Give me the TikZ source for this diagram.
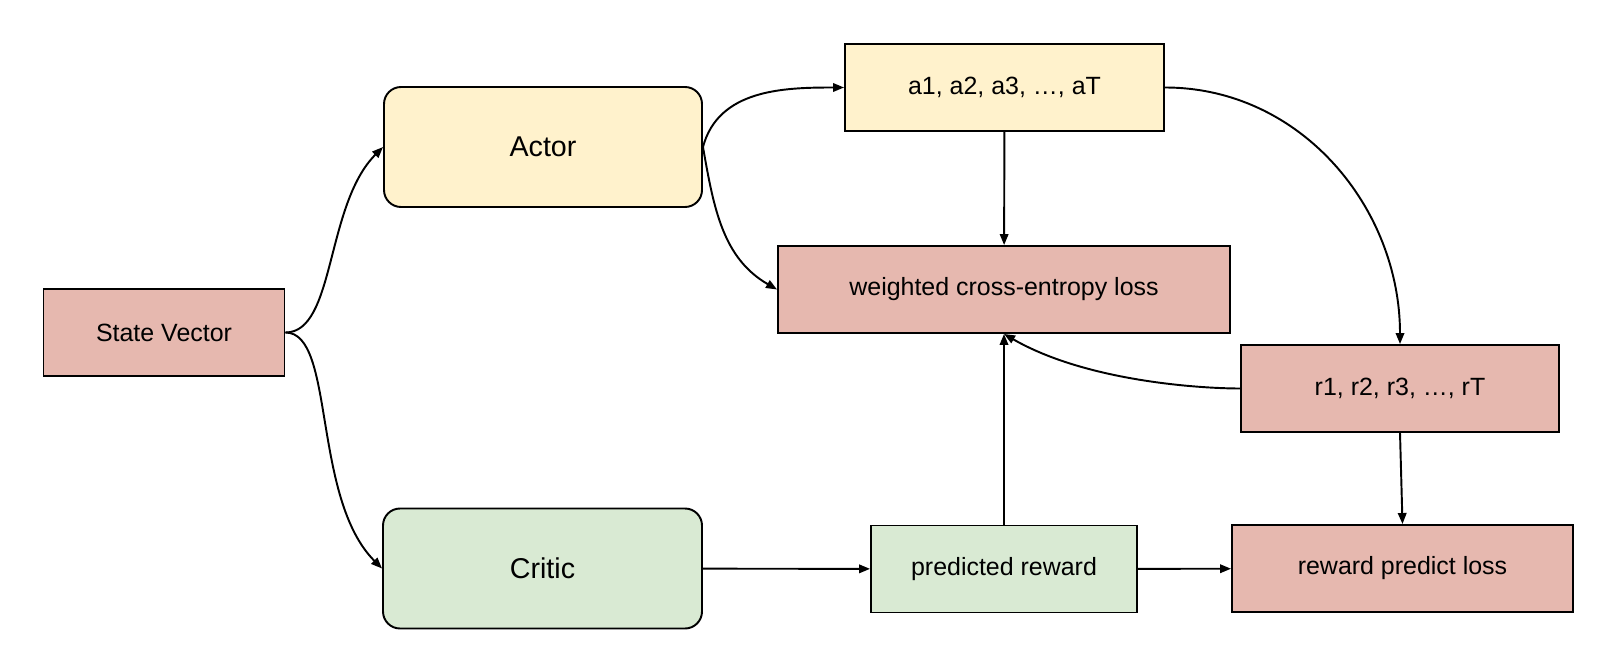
\documentclass[tikz,border=0pt]{standalone}
\usepackage{fontspec}
\setmainfont{Liberation Sans}
\usetikzlibrary{arrows.meta}
\definecolor{losspink}{HTML}{E6B8AF}
\definecolor{actyellow}{HTML}{FFF2CC}
\definecolor{critgreen}{HTML}{D9EAD3}

\begin{document}
\begin{tikzpicture}[
  box/.style={draw, line width=1.1pt, minimum height=1.74cm, align=center, font=\fontsize{14.2}{17}\selectfont},
  netbox/.style={box, rounded corners=0.34cm, minimum height=2.4cm, font=\fontsize{16.3}{19}\selectfont},
  arrow/.style={-{Triangle[length=0.22cm, width=0.17cm]}, line width=1.1pt},
]
  \useasboundingbox (0,0) rectangle (32.24,-13.28);

  % Networks
  \node[netbox, fill=actyellow, minimum width=6.36cm] (actor) at (10.86, -2.94) {Actor};
  \node[netbox, fill=critgreen, minimum width=6.38cm] (critic) at (10.85, -11.37) {Critic};

  % Data and losses
  \node[box, fill=losspink, minimum width=4.82cm] (state) at (3.28, -6.65) {State Vector};
  \node[box, fill=actyellow, minimum width=6.38cm] (acts) at (20.09, -1.75) {a1, a2, a3, …, aT};
  \node[box, fill=losspink, minimum width=9.04cm] (wce) at (20.08, -5.79) {weighted cross-entropy loss};
  \node[box, fill=losspink, minimum width=6.36cm] (rews) at (28.0, -7.77) {r1, r2, r3, …, rT};
  \node[box, fill=critgreen, minimum width=5.32cm] (pred) at (20.08, -11.38) {predicted reward};
  \node[box, fill=losspink, minimum width=6.82cm] (rpl) at (28.05, -11.37) {reward predict loss};

  % Arrows
  \draw[arrow] (state.east) to[out=0, in=225, out distance=1cm] (actor.west);
  \draw[arrow] (state.east) to[out=0, in=135, out distance=1cm] (critic.west);
  \draw[arrow] (actor.east) to[out=75, in=180] (acts.west);
  \draw[arrow] (actor.east) to[out=-80, in=150] (wce.west);
  \draw[arrow] (acts) -- (wce);
  \draw[arrow] (acts.east) to[out=0, in=90] (rews.north);
  \draw[arrow] (rews.west) to[out=180, in=-30, out distance=0.8cm] (wce.south);
  \draw[arrow] (pred) -- (wce);
  \draw[arrow] (critic) -- (pred);
  \draw[arrow] (pred) -- (rpl);
  \draw[arrow] (rews.south) -- (rpl.north);
\end{tikzpicture}
\end{document}
